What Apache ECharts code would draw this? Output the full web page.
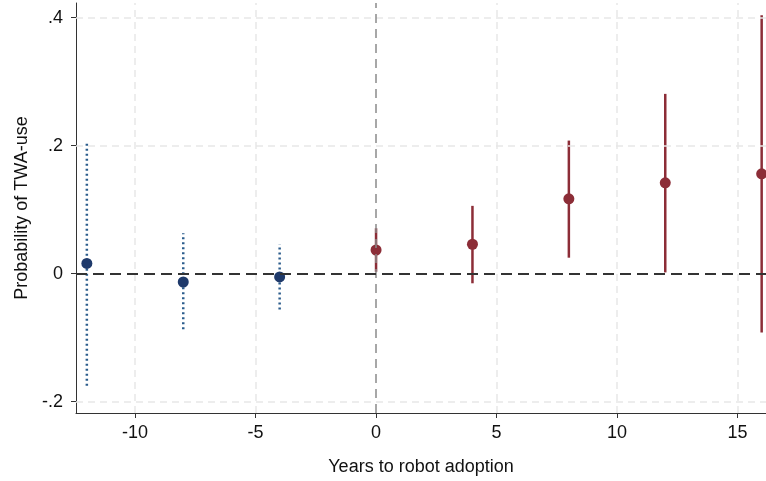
<!DOCTYPE html>
<html>
<head>
<meta charset="utf-8">
<script src="https://cdn.jsdelivr.net/npm/echarts@6/dist/echarts.min.js"></script>
<style>
  html, body { margin: 0; padding: 0; background: #fff; }
  #chart { width: 766px; height: 481px; }
</style>
</head>
<body>
<div id="chart"></div>
<script>
// pre-adoption (blue, dotted CI)
var preYears = [-12, -8, -4];
var preEst = [0.016, -0.013, -0.005];
var preLo = [-0.175, -0.087, -0.056];
var preHi = [0.204, 0.063, 0.046];

// post-adoption (red, solid CI)
var postYears = [0, 4, 8, 12, 16];
var postEst = [0.037, 0.046, 0.117, 0.142, 0.156];
var postLo = [0.003, -0.015, 0.025, 0.002, -0.092];
var postHi = [0.071, 0.106, 0.208, 0.281, 0.404];

var xTicks = [-10, -5, 0, 5, 10, 15];
var yTicks = [-0.2, 0, 0.2, 0.4];

var blue = '#1f3a6b';
var blueCi = '#2b5c8c';
var red = '#8c2d37';

function pairs(xs, ys) {
    return xs.map(function (x, i) { return [x, ys[i]]; });
}
function ciData(xs, lo, hi) {
    return xs.map(function (x, i) { return [x, lo[i], hi[i]]; });
}
// error bar drawn from the axis scales
function ciRender(style) {
    return function (params, api) {
        var p1 = api.coord([api.value(0), api.value(1)]);
        var p2 = api.coord([api.value(0), api.value(2)]);
        return {
            type: 'line',
            shape: { x1: p1[0], y1: p1[1], x2: p2[0], y2: p2[1] },
            style: style
        };
    };
}

var gridLines = [];
xTicks.forEach(function (v) {
    if (v !== 0) gridLines.push({ xAxis: v });
});
yTicks.forEach(function (v) {
    if (v !== 0) gridLines.push({ yAxis: v });
});

var font = { fontFamily: 'Liberation Sans', fontSize: 18, color: '#111' };

var myChart = echarts.init(document.getElementById('chart'));
myChart.setOption({
    animation: false,
    grid: { left: 76, right: 0, top: 3, bottom: 68 },
    xAxis: {
        type: 'value',
        min: -12.45,
        max: 16.18,
        name: 'Years to robot adoption',
        nameLocation: 'middle',
        nameGap: 45,
        nameTextStyle: font,
        axisLine: { show: true, onZero: false, lineStyle: { color: '#333', width: 1 } },
        axisTick: { show: true, customValues: xTicks, length: 5, lineStyle: { color: '#333' } },
        axisLabel: Object.assign({ customValues: xTicks, margin: 11 }, font),
        splitLine: { show: false }
    },
    yAxis: {
        type: 'value',
        min: -0.2177,
        max: 0.423,
        name: 'Probability of TWA-use',
        nameLocation: 'middle',
        nameGap: 45,
        nameTextStyle: font,
        axisLine: { show: true, onZero: false, lineStyle: { color: '#333', width: 1 } },
        axisTick: { show: true, customValues: yTicks, length: 5, lineStyle: { color: '#333' } },
        axisLabel: Object.assign({
            customValues: yTicks,
            margin: 13,
            formatter: function (v) {
                if (Math.abs(v) < 1e-9) return '0';
                return String(+v.toFixed(1)).replace('0.', '.');
            }
        }, font),
        splitLine: { show: false }
    },
    series: [
        {
            // grid and reference lines
            type: 'scatter',
            data: [],
            silent: true,
            markLine: {
                silent: true,
                symbol: 'none',
                label: { show: false },
                animation: false,
                data: gridLines.map(function (d) {
                    return Object.assign({ lineStyle: { color: '#e8e8e8', width: 1.5, type: [7, 5] } }, d);
                }).concat([
                    { xAxis: 0, lineStyle: { color: '#8a8a8a', width: 1.5, type: [9, 6] } },
                    { yAxis: 0, lineStyle: { color: '#333', width: 2, type: [11, 6] } }
                ])
            }
        },
        {
            type: 'custom',
            renderItem: ciRender({ stroke: blueCi, lineWidth: 2.5, lineDash: [2, 3] }),
            data: ciData(preYears, preLo, preHi),
            encode: { x: 0, y: [1, 2] },
            z: 3
        },
        {
            type: 'custom',
            renderItem: ciRender({ stroke: red, lineWidth: 2.5 }),
            data: ciData(postYears, postLo, postHi),
            encode: { x: 0, y: [1, 2] },
            z: 3
        },
        {
            type: 'scatter',
            data: pairs(preYears, preEst),
            symbolSize: 11,
            itemStyle: { color: blue, opacity: 1 },
            z: 4
        },
        {
            type: 'scatter',
            data: pairs(postYears, postEst),
            symbolSize: 11,
            itemStyle: { color: red, opacity: 1 },
            z: 4
        }
    ]
});
</script>
</body>
</html>
